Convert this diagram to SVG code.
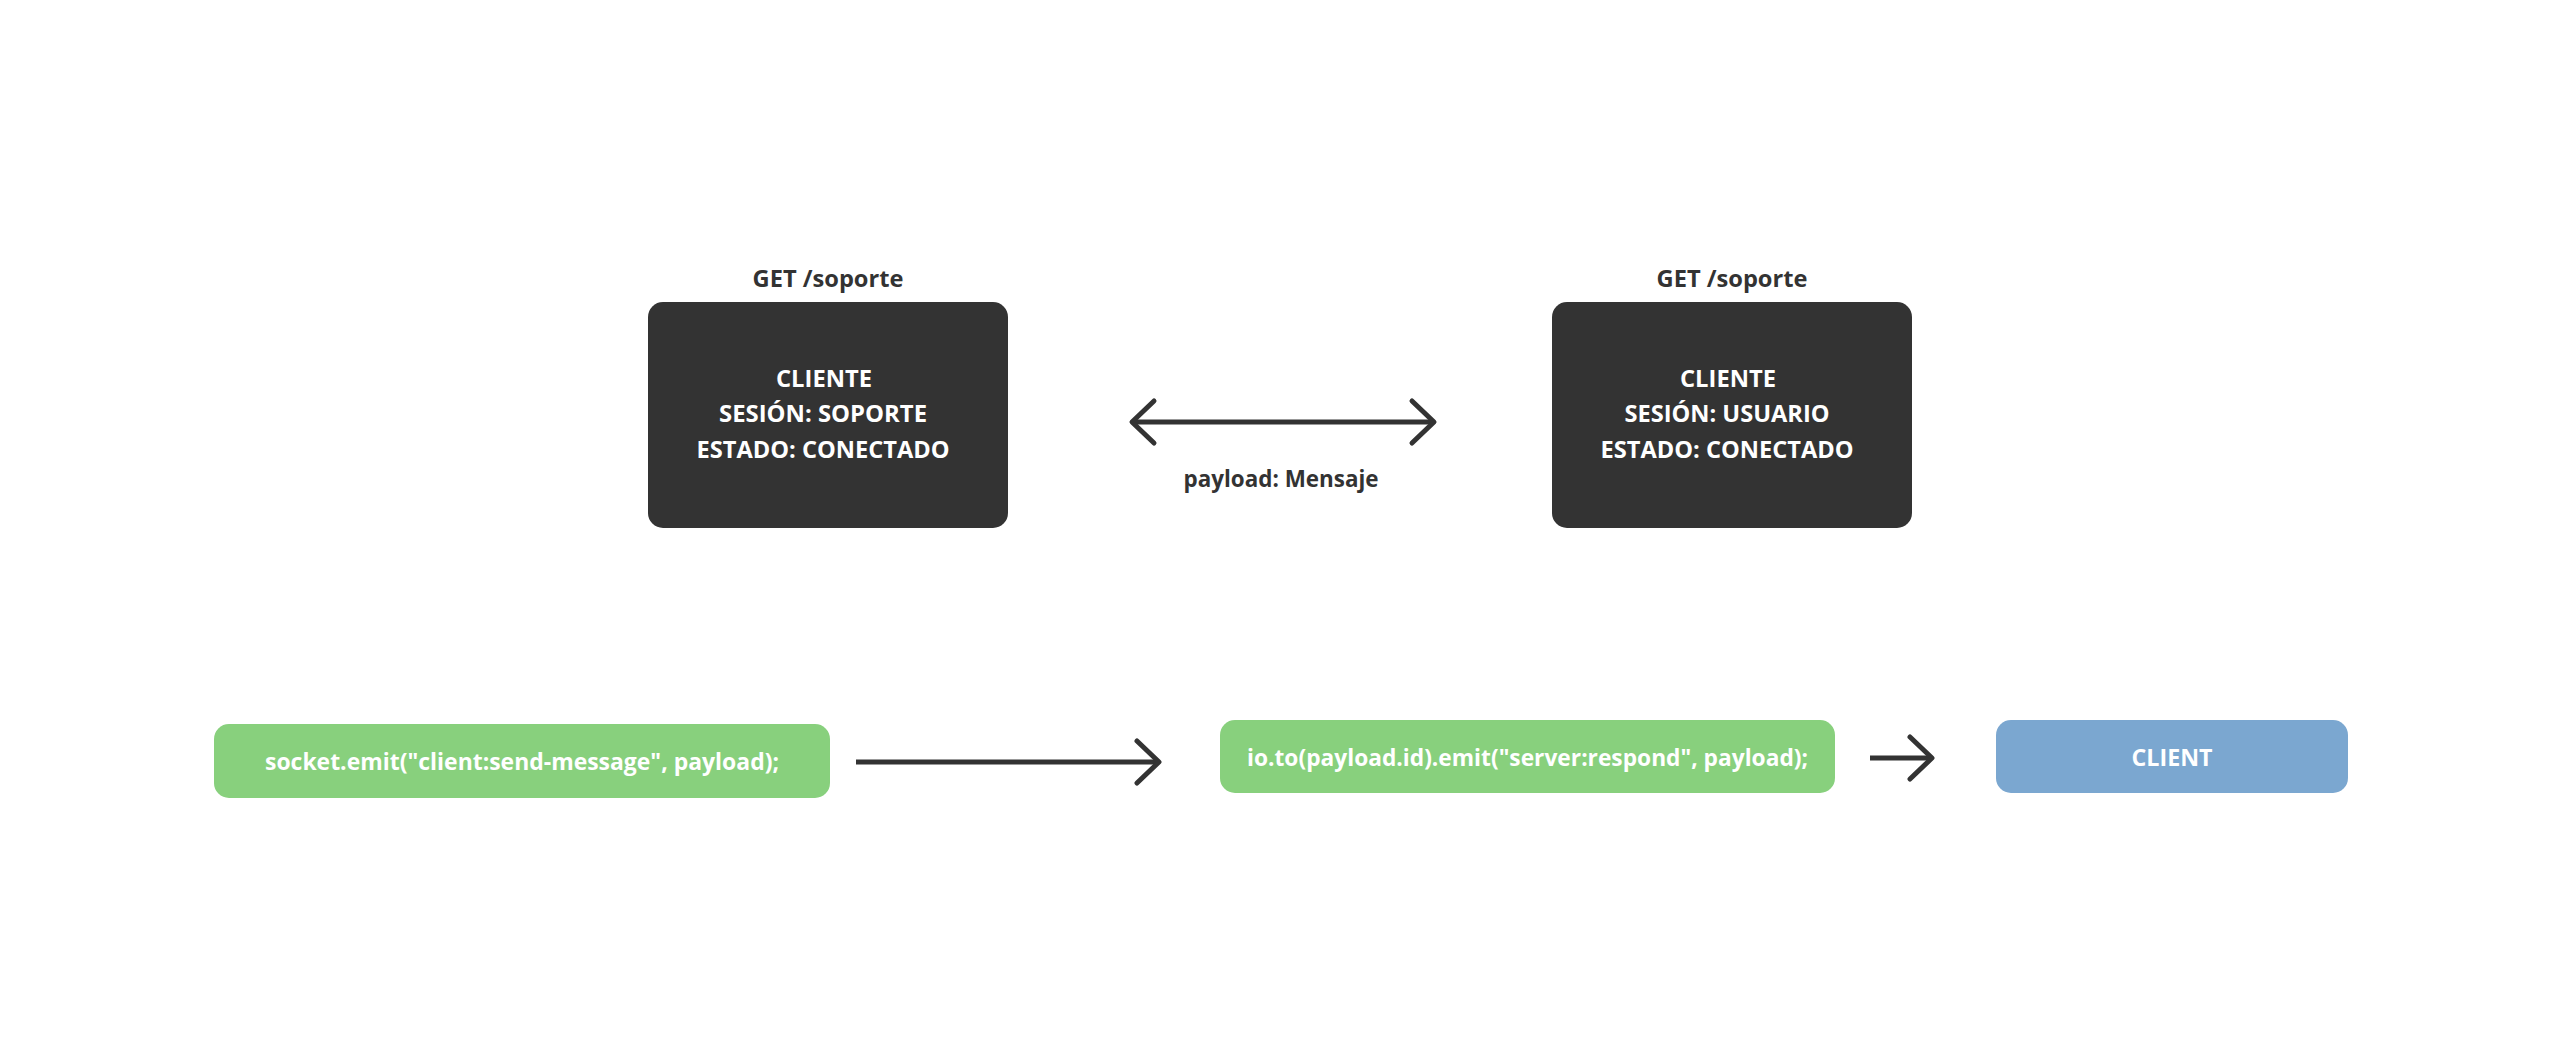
<svg xmlns="http://www.w3.org/2000/svg" width="2560" height="1064" viewBox="0 0 2560 1064">
<style>
.bg{fill:#ffffff}
.dark{fill:#333333}
.green{fill:#88d07d}
.blue{fill:#7ba7d0}
text{font-family:"Open Sans","Noto Sans","Liberation Sans",sans-serif;font-weight:700;font-size:23px;text-anchor:middle}
.w{fill:#ffffff}
.lbl{fill:#333333}
.conn{stroke:#333333;stroke-width:5;fill:none}
</style>
<defs>
<marker id="chev" markerUnits="userSpaceOnUse" markerWidth="60" markerHeight="60" viewBox="-30 -30 60 60" refX="0" refY="0" orient="auto-start-reverse" overflow="visible">
<path d="M-22,-21 L0,0 L-22,21" fill="none" stroke="#333333" stroke-width="5" stroke-linecap="round" stroke-linejoin="round"/>
</marker>
</defs>
<rect class="bg" x="0" y="0" width="2560" height="1064"/>
<g id="connectors">
<line id="c-bidir" class="conn" x1="1132" y1="422" x2="1434" y2="422" marker-start="url(#chev)" marker-end="url(#chev)"/>
<text class="lbl" x="1281" y="487" textLength="195" lengthAdjust="spacingAndGlyphs">payload: Mensaje</text>
<line id="c-emit" class="conn" x1="856" y1="762" x2="1159" y2="762" marker-end="url(#chev)"/>
<line id="c-respond" class="conn" x1="1870" y1="758" x2="1932" y2="758" marker-end="url(#chev)"/>
</g>
<g id="node-soporte">
<text class="lbl" x="828" y="287" textLength="151" lengthAdjust="spacingAndGlyphs">GET /soporte</text>
<rect class="dark" x="648" y="302" width="360" height="226" rx="15"/>
<text class="w" x="824" y="387" textLength="96" lengthAdjust="spacingAndGlyphs">CLIENTE</text>
<text class="w" x="823" y="422" textLength="208" lengthAdjust="spacingAndGlyphs">SESIÓN: SOPORTE</text>
<text class="w" x="823" y="458" textLength="253" lengthAdjust="spacingAndGlyphs">ESTADO: CONECTADO</text>
</g>
<g id="node-usuario">
<text class="lbl" x="1732" y="287" textLength="151" lengthAdjust="spacingAndGlyphs">GET /soporte</text>
<rect class="dark" x="1552" y="302" width="360" height="226" rx="15"/>
<text class="w" x="1728" y="387" textLength="96" lengthAdjust="spacingAndGlyphs">CLIENTE</text>
<text class="w" x="1727" y="422" textLength="205" lengthAdjust="spacingAndGlyphs">SESIÓN: USUARIO</text>
<text class="w" x="1727" y="458" textLength="253" lengthAdjust="spacingAndGlyphs">ESTADO: CONECTADO</text>
</g>
<g id="node-emit">
<rect class="green" x="214" y="724" width="616" height="74" rx="15"/>
<text class="w" x="522" y="770" textLength="514" lengthAdjust="spacingAndGlyphs">socket.emit("client:send-message", payload);</text>
</g>
<g id="node-server">
<rect class="green" x="1220" y="720" width="615" height="73" rx="15"/>
<text class="w" x="1527.5" y="766" textLength="561" lengthAdjust="spacingAndGlyphs">io.to(payload.id).emit("server:respond", payload);</text>
</g>
<g id="node-client">
<rect class="blue" x="1996" y="720" width="352" height="73" rx="15"/>
<text class="w" x="2172" y="766" textLength="81" lengthAdjust="spacingAndGlyphs">CLIENT</text>
</g>
</svg>
